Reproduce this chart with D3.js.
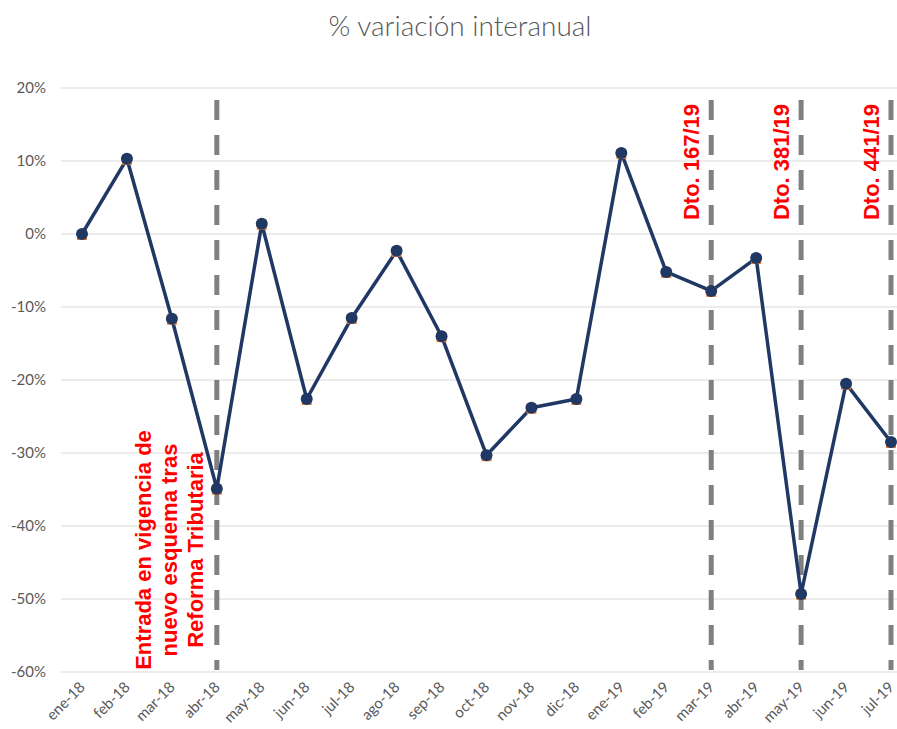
<!DOCTYPE html>
<html>
<head>
<meta charset="utf-8">
<script src="https://cdn.jsdelivr.net/npm/d3@7"></script>
<style>
  body { margin: 0; background: #ffffff; }
</style>
</head>
<body>
<div id="chart"></div>
<script>

// data
const months = ["ene-18","feb-18","mar-18","abr-18","may-18","jun-18","jul-18","ago-18","sep-18",
  "oct-18","nov-18","dic-18","ene-19","feb-19","mar-19","abr-19","may-19","jun-19","jul-19"];
const variacion = [0, 10.3, -11.6, -34.9, 1.4, -22.6, -11.5, -2.3, -14.0,
  -30.3, -23.8, -22.6, 11.1, -5.2, -7.8, -3.3, -49.3, -20.5, -28.5];
const yTicks = [20, 10, 0, -10, -20, -30, -40, -50, -60];
const markerMonths = ["abr-18", "mar-19", "may-19", "jul-19"];
const notes = [
  { month: "abr-18", lines: ["Entrada en vigencia de", "nuevo esquema tras", "Reforma Tributaria"] },
  { month: "mar-19", lines: ["Dto. 167/19"] },
  { month: "may-19", lines: ["Dto. 381/19"] },
  { month: "jul-19", lines: ["Dto. 441/19"] }
];

const W = 897, H = 729;
const fontFamily = "Lato, 'Open Sans', sans-serif";

const svg = d3.select("#chart").append("svg")
  .attr("width", W)
  .attr("height", H);

// title
svg.append("text")
  .attr("x", 460)
  .attr("y", 36)
  .attr("text-anchor", "middle")
  .attr("font-family", fontFamily)
  .attr("font-weight", 300)
  .attr("font-size", 28)
  .attr("fill", "#595959")
  .text("% variación interanual");

const x = d3.scalePoint()
  .domain(months)
  .range([82, 891]);

const y = d3.scaleLinear()
  .domain([-60, 20])
  .range([672, 88]);

// grid
svg.append("g")
  .selectAll("line")
  .data(yTicks)
  .enter()
  .append("line")
  .attr("x1", 61)
  .attr("x2", W)
  .attr("y1", d => y(d))
  .attr("y2", d => y(d))
  .attr("stroke", "#d9d9d9")
  .attr("stroke-width", 1);

// y labels
svg.append("g")
  .selectAll("text")
  .data(yTicks)
  .enter()
  .append("text")
  .attr("x", 46)
  .attr("y", d => y(d) + 5)
  .attr("text-anchor", "end")
  .attr("font-family", fontFamily)
  .attr("font-size", 15)
  .attr("fill", "#595959")
  .text(d => d + "%");

// x labels
svg.append("g")
  .selectAll("text")
  .data(months)
  .enter()
  .append("text")
  .attr("text-anchor", "end")
  .attr("transform", d => "translate(" + (x(d) + 4) + ",688) rotate(-45)")
  .attr("font-family", fontFamily)
  .attr("font-size", 15)
  .attr("fill", "#595959")
  .text(d => d);

// dashed vertical markers
svg.append("g")
  .selectAll("line")
  .data(markerMonths)
  .enter()
  .append("line")
  .attr("x1", d => x(d))
  .attr("x2", d => x(d))
  .attr("y1", 100)
  .attr("y2", 670)
  .attr("stroke", "#808080")
  .attr("stroke-width", 5)
  .attr("stroke-dasharray", "20,15");

// notes
notes.forEach(function (n) {
  const isLong = n.lines.length > 1;
  const cy = isLong ? 550 : 162;
  const cx = isLong ? x(n.month) - 74 : x(n.month) - 20;
  const lineH = 26;
  const t = svg.append("text")
    .attr("transform", "translate(" + cx + "," + cy + ") rotate(-90)")
    .attr("text-anchor", "middle")
    .attr("font-family", "'Liberation Sans', Arial, sans-serif")
    .attr("font-weight", "bold")
    .attr("font-size", 22)
    .attr("fill", "#ff0000");
  n.lines.forEach(function (l, i) {
    t.append("tspan")
      .attr("x", 0)
      .attr("y", i * lineH + 8)
      .text(l);
  });
});

// series
const pts = months.map((m, i) => ({ m: m, v: variacion[i] }));

svg.append("path")
  .datum(pts)
  .attr("fill", "none")
  .attr("stroke", "#203864")
  .attr("stroke-width", 3.5)
  .attr("stroke-linejoin", "round")
  .attr("d", d3.line().x(d => x(d.m)).y(d => y(d.v)));

svg.append("g")
  .selectAll("rect")
  .data(pts)
  .enter()
  .append("rect")
  .attr("x", d => x(d.m) - 5)
  .attr("y", d => y(d.v) - 4)
  .attr("width", 10)
  .attr("height", 10)
  .attr("fill", "#ed7d31");

svg.append("g")
  .selectAll("circle")
  .data(pts)
  .enter()
  .append("circle")
  .attr("cx", d => x(d.m))
  .attr("cy", d => y(d.v))
  .attr("r", 6)
  .attr("fill", "#203864");

</script>
</body>
</html>
